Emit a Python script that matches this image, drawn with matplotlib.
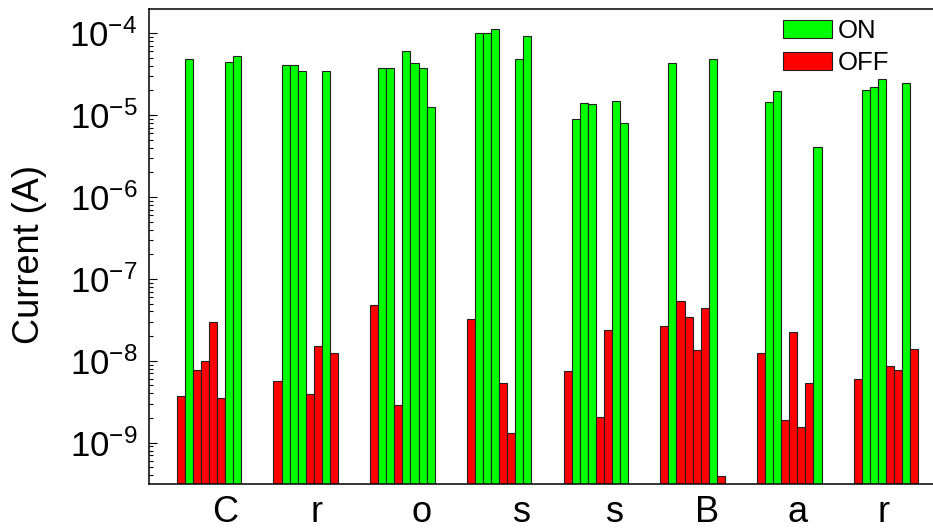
import matplotlib
matplotlib.use("Agg")
import matplotlib.pyplot as plt
from matplotlib.ticker import FixedLocator, FuncFormatter, NullFormatter
from matplotlib.patches import Patch
import numpy as np

plt.rcParams['font.family'] = ['Liberation Sans', 'DejaVu Sans']
plt.rcParams['mathtext.fontset'] = 'custom'
plt.rcParams['mathtext.rm'] = 'Liberation Sans'
plt.rcParams['mathtext.it'] = 'Liberation Sans:italic'
plt.rcParams['mathtext.bf'] = 'Liberation Sans:bold'

# letters written by the device, one group of 8 bits each
letters = ['C', 'r', 'o', 's', 's', 'B', 'a', 'r']

# 1 = ON state (green), 0 = OFF state (red)
bits_C  = [0, 1, 0, 0, 0, 0, 1, 1]
bits_r  = [0, 1, 1, 1, 0, 0, 1, 0]
bits_o  = [0, 1, 1, 0, 1, 1, 1, 1]
bits_s  = [0, 1, 1, 1, 0, 0, 1, 1]
bits_s2 = [0, 1, 1, 1, 0, 0, 1, 1]
bits_B  = [0, 1, 0, 0, 0, 0, 1, 0]
bits_a  = [0, 1, 1, 0, 0, 0, 0, 1]
bits_r2 = [0, 1, 1, 1, 0, 0, 1, 0]

# measured current (A) for each bit
cur_C  = [3.7e-9, 4.8e-5, 7.7e-9, 1.0e-8, 3.0e-8, 3.55e-9, 4.4e-5, 5.3e-5]
cur_r  = [5.6e-9, 4.1e-5, 4.1e-5, 3.5e-5, 3.9e-9, 1.5e-8, 3.5e-5, 1.25e-8]
cur_o  = [4.8e-8, 3.8e-5, 3.8e-5, 2.85e-9, 6.1e-5, 4.3e-5, 3.8e-5, 1.26e-5]
cur_s  = [3.2e-8, 1.02e-4, 1.02e-4, 1.14e-4, 5.3e-9, 1.3e-9, 4.9e-5, 9.2e-5]
cur_s2 = [7.6e-9, 8.9e-6, 1.41e-5, 1.35e-5, 2.07e-9, 2.4e-8, 1.48e-5, 7.9e-6]
cur_B  = [2.66e-8, 4.27e-5, 5.35e-8, 3.47e-8, 1.34e-8, 4.37e-8, 4.9e-5, 3.9e-10]
cur_a  = [1.25e-8, 1.43e-5, 1.97e-5, 1.9e-9, 2.24e-8, 1.55e-9, 5.3e-9, 4.1e-6]
cur_r2 = [5.95e-9, 2.04e-5, 2.2e-5, 2.75e-5, 8.7e-9, 7.7e-9, 2.46e-5, 1.39e-8]

bits = [bits_C, bits_r, bits_o, bits_s, bits_s2, bits_B, bits_a, bits_r2]
currents = [cur_C, cur_r, cur_o, cur_s, cur_s2, cur_B, cur_a, cur_r2]

# letter positions under the groups (in bar units)
letter_x = [5.5, 16.9, 29.9, 42.3, 53.85, 65.3, 76.5, 87.2]

# decades labelled on the y axis
decades = [-9, -8, -7, -6, -5, -4]

GREEN = '#00ff00'
RED = '#ff0000'
EDGE = '#202020'

ymin, ymax = 3.1e-10, 1.96e-4

fig = plt.figure(figsize=(9.33, 5.31), dpi=100)
ax = fig.add_axes([149/933, 46.7/531, 784/933, 475/531])

for g in range(len(letters)):
    x = g*12 + np.arange(8)
    vals = np.array(currents[g])
    cols = [GREEN if b else RED for b in bits[g]]
    ax.bar(x, vals - ymin, bottom=ymin, width=1.0, color=cols,
           edgecolor=EDGE, linewidth=0.8)

ax.set_yscale('log')
ax.set_ylim(ymin, ymax)
ax.set_xlim(-3.94, 93.33)

major = [10.0**d for d in decades]
minor = [m * 10.0**d for d in [-10] + decades for m in range(2, 10)]
minor = [v for v in minor if ymin <= v <= ymax]
ax.yaxis.set_major_locator(FixedLocator(major))
ax.yaxis.set_minor_locator(FixedLocator(minor))
ax.yaxis.set_major_formatter(FuncFormatter(
    lambda v, p: r'$\mathregular{10^{%d}}$' % int(round(np.log10(v)))))
ax.yaxis.set_minor_formatter(NullFormatter())
ax.tick_params(axis='y', which='major', direction='in', length=6, width=0.8,
               labelsize=25, pad=8.5)
ax.tick_params(axis='y', which='minor', direction='in', length=3, width=0.8)

ax.set_xticks(letter_x)
ax.set_xticklabels(letters)
ax.tick_params(axis='x', length=0, labelsize=26, pad=7.5)

ax.spines['right'].set_visible(False)
for s in ['left', 'top', 'bottom']:
    ax.spines[s].set_linewidth(1.1)

fig.text(30/933, 1 - 254/531, 'Current (A)', rotation=90, fontsize=26,
         ha='center', va='center')

handles = [Patch(facecolor=GREEN, edgecolor=EDGE, linewidth=0.8, label='ON'),
           Patch(facecolor=RED, edgecolor=EDGE, linewidth=0.8, label='OFF')]
ax.legend(handles=handles, loc='upper left', bbox_to_anchor=(783/933, 1 - 19/531),
          bbox_transform=fig.transFigure, frameon=False, fontsize=18.5,
          handlelength=1.9, handleheight=0.7, handletextpad=0.22,
          labelspacing=0.33, borderpad=0, borderaxespad=0)

fig.savefig('out.png', dpi=100)
